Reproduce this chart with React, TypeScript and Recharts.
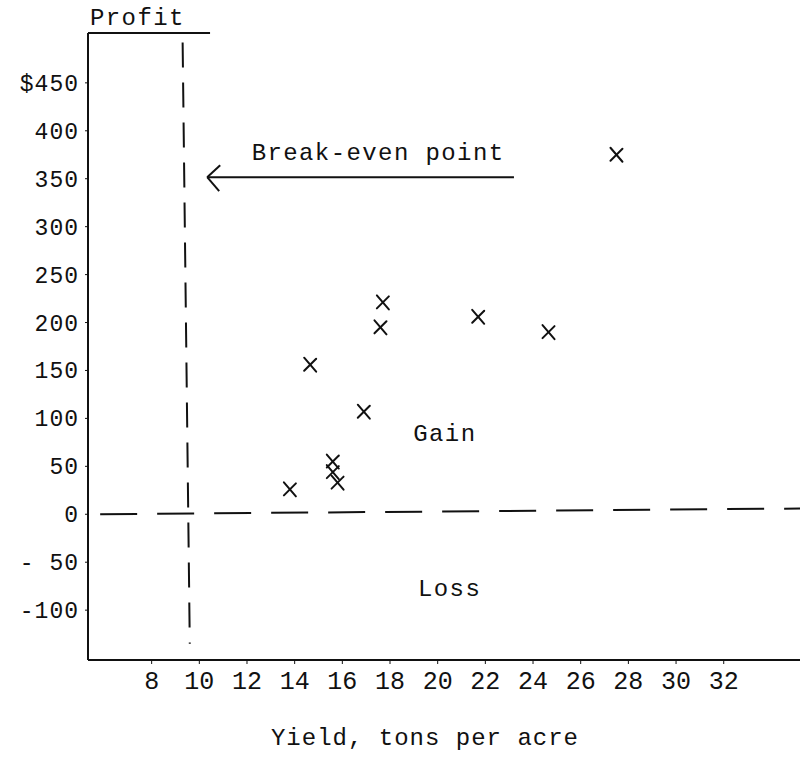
import React from 'react';
import { ScatterChart, Scatter, XAxis, YAxis, ReferenceLine, ReferenceDot } from 'recharts';

// ---- data ----
const yields = [17.7, 17.6, 14.65, 21.7, 24.65, 16.9, 15.6, 15.6, 15.8, 13.8, 27.5];
const profits = [221, 195, 156, 206, 190, 107, 55, 44, 33, 26, 375];

const xTicks = [8, 10, 12, 14, 16, 18, 20, 22, 24, 26, 28, 30, 32];
const yTicks = [-100, -50, 0, 50, 100, 150, 200, 250, 300, 350, 400, 450];
const yTickLabels = ['-100', '- 50', '0', '50', '100', '150', '200', '250', '300', '350', '400', '$450'];

const xDomain = [5.33, 35.2];
const yDomain = [-152, 502];

// break-even line (slightly slanted in the typed original): top and bottom ends
const breakEvenTop = { x: 9.3, y: 492 };
const breakEvenBottom = { x: 9.6, y: -135 };
// zero line ends
const zeroStart = { x: 5.84, y: 0 };
const zeroEnd = { x: 35.2, y: 6 };
// arrow pointing at the break-even line
const arrowFrom = { x: 23.2, y: 351.6 };
const arrowTo = { x: 10.33, y: 351.6 };
// Profit heading underline
const headStart = { x: 5.33, y: 502 };
const headEnd = { x: 10.45, y: 502 };

const notes = [
  { text: 'Break-even point', x: 17.5, y: 378 },
  { text: 'Gain', x: 20.3, y: 85.4 },
  { text: 'Loss', x: 20.5, y: -76 },
];

const points = yields.map((x, i) => ({ x, y: profits[i] }));

const FONT = '"Liberation Mono", "DejaVu Sans Mono", monospace';
const INK = '#111';

const yLabel = (v: number) => {
  const i = yTicks.indexOf(v);
  return i >= 0 ? yTickLabels[i] : String(v);
};

const YTick = (props: any) => {
  const { x, y, payload } = props;
  return (
    <text x={x} y={y} dy={8} textAnchor="end" fontFamily={FONT} fontSize={23} fill={INK} style={{ letterSpacing: '1px' }}>
      {yLabel(payload.value)}
    </text>
  );
};

const XTick = (props: any) => {
  const { x, y, payload } = props;
  return (
    <text x={x} y={y} dy={17} textAnchor="middle" fontFamily={FONT} fontSize={25} fill={INK}>
      {String(payload.value)}
    </text>
  );
};

const Cross = (props: any) => {
  const { cx, cy } = props;
  if (cx == null || cy == null) return null;
  return (
    <g stroke={INK} strokeWidth={2} strokeLinecap="round">
      <line x1={cx - 6} y1={cy - 7} x2={cx + 6} y2={cy + 7} />
      <line x1={cx - 6} y1={cy + 6} x2={cx + 6} y2={cy - 6} />
    </g>
  );
};

const ArrowShape = (props: any) => {
  const { x1, y1, x2, y2 } = props;
  const tipX = Math.min(x1, x2);
  const tailX = Math.max(x1, x2);
  const ty = x1 < x2 ? y1 : y2;
  return (
    <g stroke={INK} strokeWidth={2} fill="none">
      <line x1={tailX} y1={ty} x2={tipX} y2={ty} />
      <line x1={tipX} y1={ty} x2={tipX + 13} y2={ty - 12} />
      <line x1={tipX} y1={ty} x2={tipX + 12} y2={ty + 14} />
    </g>
  );
};

const HeadShape = (props: any) => {
  const { x1, y1, x2, y2 } = props;
  return (
    <g>
      <line x1={x1} y1={y1} x2={x2} y2={y2} stroke={INK} strokeWidth={2} />
      <text x={x1 + 2} y={y1 - 8} fontFamily={FONT} fontSize={24} fill={INK} style={{ letterSpacing: '1.4px' }}>
        Profit
      </text>
    </g>
  );
};

const XAxisTitle = (props: any) => {
  const vb = props.viewBox || {};
  return (
    <text
      x={vb.x + vb.width / 2 - 19}
      y={vb.y + vb.height - 5}
      textAnchor="middle"
      fontFamily={FONT}
      fontSize={24}
      fill={INK}
      style={{ letterSpacing: '1px' }}
    >
      Yield, tons per acre
    </text>
  );
};

export default function App() {
  return (
    <div style={{ position: 'absolute', left: 0, top: 0, background: '#fff' }}>
      <ScatterChart width={801} height={763} margin={{ top: 33, right: 1, bottom: 13, left: 8 }}>
        <XAxis
          type="number"
          dataKey="x"
          domain={xDomain}
          ticks={xTicks}
          allowDataOverflow
          height={90}
          tickSize={4}
          tickMargin={8}
          tick={<XTick />}
          axisLine={{ stroke: INK, strokeWidth: 2 }}
          tickLine={{ stroke: INK }}
          label={{ content: <XAxisTitle /> }}
        />
        <YAxis
          type="number"
          dataKey="y"
          domain={yDomain}
          ticks={yTicks}
          allowDataOverflow
          width={80}
          tickSize={3}
          tickMargin={6}
          tick={<YTick />}
          axisLine={{ stroke: INK, strokeWidth: 2 }}
          tickLine={{ stroke: INK }}
        />
        <ReferenceLine
          segment={[zeroStart, zeroEnd]}
          stroke={INK}
          strokeWidth={2}
          strokeDasharray="37 20"
          ifOverflow="visible"
        />
        <ReferenceLine
          segment={[breakEvenTop, breakEvenBottom]}
          stroke={INK}
          strokeWidth={2}
          strokeDasharray="25 15"
          ifOverflow="visible"
        />
        <ReferenceLine segment={[arrowFrom, arrowTo]} ifOverflow="visible" shape={ArrowShape} />
        <ReferenceLine segment={[headStart, headEnd]} ifOverflow="visible" shape={HeadShape} />
        {notes.map((n) => (
          <ReferenceDot
            key={n.text}
            x={n.x}
            y={n.y}
            r={0}
            fill="none"
            stroke="none"
            ifOverflow="visible"
            label={{
              value: n.text,
              position: 'center',
              fontFamily: FONT,
              fontSize: 24,
              fill: INK,
              style: { letterSpacing: '1.4px' },
            }}
          />
        ))}
        <Scatter data={points} shape={<Cross />} isAnimationActive={false} />
      </ScatterChart>
    </div>
  );
}
